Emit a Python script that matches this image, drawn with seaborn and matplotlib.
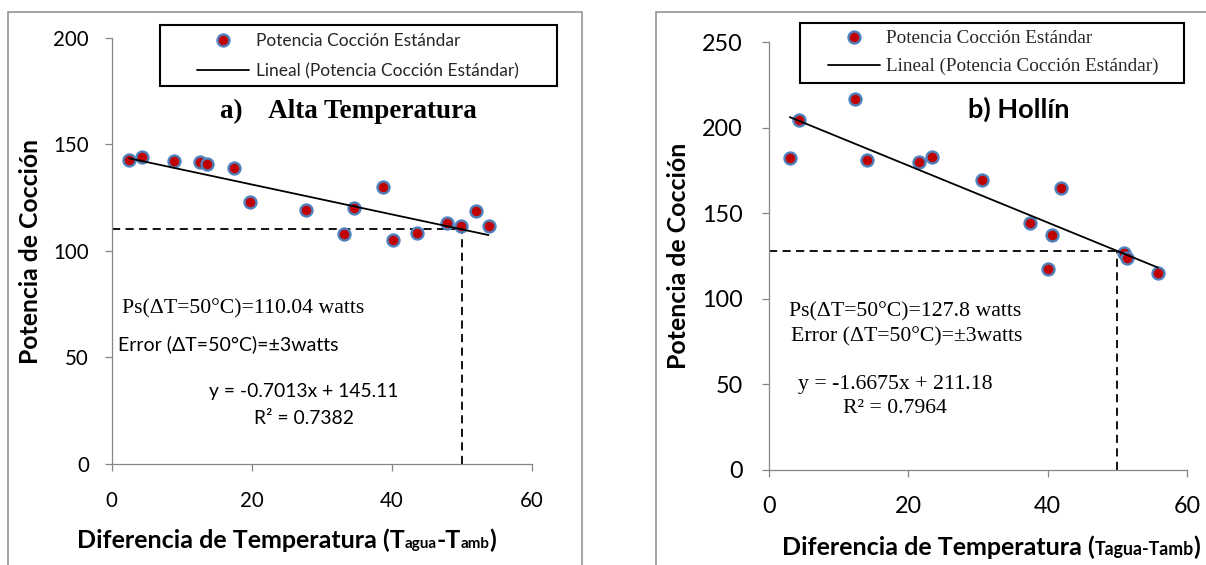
import numpy as np
import matplotlib
matplotlib.use("Agg")
import matplotlib.pyplot as plt
import seaborn as sns
from matplotlib.patches import Rectangle
from matplotlib.offsetbox import TextArea, HPacker, AnnotationBbox

# ---- a) Alta Temperatura ----
alta_dt = [2.5, 4.3, 8.9, 12.6, 13.6, 17.4, 19.7, 27.7, 33.2, 34.6, 38.7, 40.1, 43.6, 47.8, 49.8, 52.0, 53.8]
alta_p = [142.4, 144.1, 142.1, 141.8, 140.6, 139.0, 123.0, 119.0, 108.0, 120.2, 130.0, 105.2, 108.5, 113.2, 111.6, 118.8, 111.6]
alta_fit = (-0.7013, 145.11)
alta_r2 = 0.7382
alta_ps50 = 110.04

# ---- b) Hollín ----
hollin_dt = [3.0, 4.3, 12.4, 14.0, 21.6, 23.4, 30.6, 37.4, 40.6, 40.1, 41.9, 50.9, 51.3, 55.8]
hollin_p = [182.1, 204.5, 216.6, 181.3, 179.8, 182.7, 169.6, 144.1, 137.0, 117.5, 164.7, 126.9, 123.9, 115.2]
hollin_fit = (-1.6675, 211.18)
hollin_r2 = 0.7964
hollin_ps50 = 127.8

dt_ref = 50
x_ticks = [0, 20, 40, 60]
alta_yticks = [0, 50, 100, 150, 200]
hollin_yticks = [0, 50, 100, 150, 200, 250]

serie_label = "Potencia Cocción Estándar"
trend_label = "Lineal (Potencia Cocción Estándar)"

W, H = 1206, 565
sns.set_theme(style="ticks")
plt.rcParams["font.family"] = ["Lato", "DejaVu Sans"]
SERIF = ["Liberation Serif", "DejaVu Serif"]
SANS = ["Lato", "DejaVu Sans"]
GRAY = "#868686"

fig = plt.figure(figsize=(W / 100, H / 100), dpi=100)


def fx(px):
    return px / W


def fy(py):
    return 1 - py / H


def axes_at(left, top, right, bottom):
    return fig.add_axes([fx(left), fy(bottom), fx(right) - fx(left), fy(top) - fy(bottom)])


def frame(left, top, right, bottom, **kw):
    fig.add_artist(Rectangle((fx(left), fy(bottom)), fx(right) - fx(left), fy(top) - fy(bottom),
                             transform=fig.transFigure, fill=False, **kw))


def panel(ax, dt, p, fit, ymax, yticks, ps50, tick_size, xpad, ypad):
    slope, icpt = fit
    xs = np.array([min(dt), max(dt)])
    sns.scatterplot(x=dt, y=p, ax=ax, s=74, color="#C00000", edgecolor="#4F81BD",
                    linewidth=1.7, zorder=3, label=serie_label)
    sns.lineplot(x=xs, y=slope * xs + icpt, ax=ax, color="black", lw=1.3, zorder=4,
                 label=trend_label)
    # lectura de la potencia a dT = 50 °C
    ax.plot([0, dt_ref], [ps50, ps50], color="black", lw=1.3, ls=(0, (4.5, 3)), zorder=2)
    ax.plot([dt_ref, dt_ref], [0, ps50], color="black", lw=1.3, ls=(0, (4.5, 3)), zorder=2)
    ax.set_xlim(0, 60)
    ax.set_ylim(0, ymax)
    ax.set_xticks(x_ticks)
    ax.set_yticks(yticks)
    ax.set_xlabel("")
    for s in ("top", "right"):
        ax.spines[s].set_visible(False)
    for s in ("left", "bottom"):
        ax.spines[s].set_color(GRAY)
        ax.spines[s].set_linewidth(0.9)
    ax.tick_params(axis="both", direction="out", length=5.3, width=0.9, color=GRAY,
                   labelsize=tick_size, labelcolor="black")
    ax.tick_params(axis="x", pad=xpad)
    ax.tick_params(axis="y", pad=ypad)
    ax.patch.set_alpha(0)


def legend(ax, hx, cy, hlen, tx, size, family, spacing):
    fs = size * 100 / 72
    h, l = ax.get_legend_handles_labels()
    ax.legend(h[:2], l[:2], loc="center left", bbox_to_anchor=(fx(hx), fy(cy)),
              bbox_transform=fig.transFigure, frameon=False, borderpad=0, borderaxespad=0,
              handlelength=hlen / fs, handletextpad=(tx - hx - hlen) / fs,
              labelspacing=spacing, scatterpoints=1, scatteryoffsets=[0.5],
              prop={"family": family, "size": size})


def xlabel(parts, cx, cy):
    boxes = [TextArea(t, textprops=dict(fontsize=fs, fontweight="bold", family=SANS, color="black"))
             for t, fs in parts]
    pack = HPacker(children=boxes, align="baseline", pad=0, sep=0)
    ab = AnnotationBbox(pack, (fx(cx), fy(cy)), xycoords="figure fraction", frameon=False,
                        box_alignment=(0.5, 0.5), annotation_clip=False)
    fig.add_artist(ab)


def ylabel(ax, cx, cy, size):
    ax.set_ylabel("Potencia de Cocción", fontsize=size, fontweight="bold", color="black")
    ax.yaxis.label.set_va("center")
    ax.yaxis.set_label_coords(fx(cx), fy(cy), transform=fig.transFigure)


def txt(x, y, s, size, family, ha="left", weight="normal"):
    fig.text(fx(x), fy(y), s, fontsize=size, family=family, ha=ha, va="baseline",
             fontweight=weight, color="black")


# marcos de cada gráfico
frame(8.4, 11.5, 582, 580, edgecolor="#8C8C8C", lw=1.1)
frame(655.7, 11.5, 1220, 580, edgecolor="#8C8C8C", lw=1.1)

# ---- panel a ----
ax1 = axes_at(111.75, 37.5, 531.96, 464.1)
panel(ax1, alta_dt, alta_p, alta_fit, 200, alta_yticks, alta_ps50, 14.8, 14, 11.2)
frame(160, 25.2, 556.8, 85.8, edgecolor="black", lw=1.5)
legend(ax1, 197, 56.2, 51.8, 255.6, 12.5, SANS, 0.8)
txt(348.5, 118.2, "a)    Alta Temperatura", 19.5, SERIF, ha="center", weight="bold")
txt(122.5, 313.5, f"Ps(\u0394T={dt_ref}°C)={alta_ps50:.2f} watts", 15.7, SERIF)
txt(117.9, 350.3, f"Error (\u0394T={dt_ref}°C)=±3watts", 14, SANS)
txt(304, 397.5, f"y = {alta_fit[0]:.4f}x + {alta_fit[1]:.2f}", 13.9, SANS, ha="center")
txt(304, 424.5, f"R² = {alta_r2:.4f}", 13.9, SANS, ha="center")
ylabel(ax1, 30.6, 251.7, 17.8)
xlabel([("Diferencia de Temperatura (T", 18), ("agua", 11), ("-T", 18), ("amb", 11), (")", 18)],
       286.5, 540)

# ---- panel b ----
ax2 = axes_at(768.9, 42.2, 1187.2, 469.5)
panel(ax2, hollin_dt, hollin_p, hollin_fit, 250, hollin_yticks, hollin_ps50, 16.8, 13.5, 13.6)
frame(800.2, 22.7, 1183.7, 82.9, edgecolor="black", lw=1.5)
legend(ax2, 828, 52.75, 52, 886, 13.75, SERIF, 0.55)
txt(1019, 117.8, "b) Hollín", 19.5, SANS, ha="center", weight="bold")
txt(789.4, 316, f"Ps(\u0394T={dt_ref}°C)={hollin_ps50} watts", 15.7, SERIF)
txt(790.6, 341.6, f"Error (\u0394T={dt_ref}°C)=±3watts", 15.7, SERIF)
txt(895, 388.5, f"y = {hollin_fit[0]:.4f}x + {hollin_fit[1]:.2f}", 15.7, SERIF, ha="center")
txt(895, 413.3, f"R² = {hollin_r2:.4f}", 15.7, SERIF, ha="center")
ylabel(ax2, 679, 256, 17.9)
xlabel([("Diferencia de Temperatura (", 18), ("Tagua-Tamb", 12.8), (")", 18)], 991, 547)

fig.savefig("out.png", dpi=100)
